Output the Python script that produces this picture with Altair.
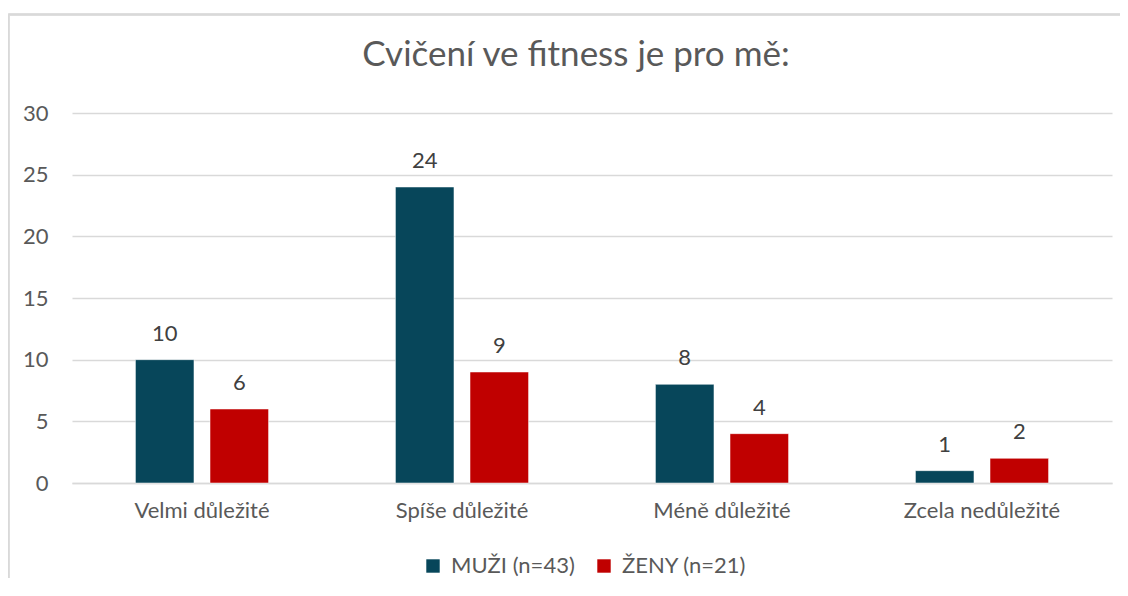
import altair as alt
import pandas as pd

title_text = "Cvičení ve fitness je pro mě:"
categories = ["Velmi důležité", "Spíše důležité", "Méně důležité", "Zcela nedůležité"]
series = ["MUŽI (n=43)", "ŽENY (n=21)"]
muzi = [10, 24, 8, 1]
zeny = [6, 9, 4, 2]
colors = ["#07465A", "#C00000"]

rows = []
for c, m, z in zip(categories, muzi, zeny):
    rows.append({"kat": c, "skupina": series[0], "hodnota": m})
    rows.append({"kat": c, "skupina": series[1], "hodnota": z})
df = pd.DataFrame(rows)

FONT = "Lato"
FS = 22

base = alt.Chart(df).encode(
    x=alt.X("kat:N", sort=categories, title=None,
            scale=alt.Scale(paddingInner=0.488, paddingOuter=0.244),
            axis=alt.Axis(labelAngle=0, labelFontSize=FS, labelColor="#595959",
                          labelFont=FONT, labelPadding=17, ticks=False,
                          domainColor="#D9D9D9", domainWidth=1.5)),
    xOffset=alt.XOffset("skupina:N", sort=series,
                        scale=alt.Scale(paddingInner=0.215, paddingOuter=0)),
)

bars = base.mark_bar(stroke="white", strokeWidth=0.5).encode(
    y=alt.Y("hodnota:Q", title=None,
            scale=alt.Scale(domain=[0, 30]),
            axis=alt.Axis(values=[0, 5, 10, 15, 20, 25, 30], labelFontSize=FS,
                          labelColor="#595959", labelFont=FONT, labelPadding=24,
                          ticks=False, domain=False, gridColor="#D9D9D9",
                          gridWidth=1.5)),
    color=alt.Color("skupina:N", sort=series,
                    scale=alt.Scale(domain=series, range=colors),
                    legend=alt.Legend(title=None, orient="none", direction="horizontal",
                                      legendX=350, legendY=442,
                                      symbolType="square", symbolSize=180,
                                      symbolStrokeWidth=0,
                                      labelFontSize=FS, labelColor="#595959",
                                      labelFont=FONT, columnPadding=18,
                                      labelOffset=7)),
)

labels = base.mark_text(baseline="alphabetic", dy=-19, fontSize=FS, color="#404040",
                        font=FONT).encode(
    y=alt.Y("hodnota:Q"),
    text=alt.Text("hodnota:Q"),
)

frame_top = alt.Chart(df).mark_rule(stroke="#D9D9D9", strokeWidth=1.5, clip=False).encode(
    x=alt.value(-63.5), x2=alt.value(1048), y=alt.value(-98.5)
)
frame_left = alt.Chart(df).mark_rule(stroke="#D9D9D9", strokeWidth=1.5, clip=False).encode(
    x=alt.value(-63.5), y=alt.value(-98.5), y2=alt.value(470)
)

title_df = pd.DataFrame({"t": [title_text]})
title = alt.Chart(title_df).mark_text(fontSize=35, font=FONT, color="#595959",
                                      baseline="alphabetic", align="center",
                                      clip=False).encode(
    text="t:N", x=alt.value(504), y=alt.value(-47)
)

chart = alt.layer(frame_top, frame_left, bars, labels, title).properties(
    width=1040, height=370,
    autosize=alt.AutoSizeParams(type="none"),
    padding={"left": 64, "top": 105, "right": 8, "bottom": 95},
    background="white",
).configure_view(stroke=None)

chart.save("out.html", embed_options={"renderer": "svg", "actions": False})
